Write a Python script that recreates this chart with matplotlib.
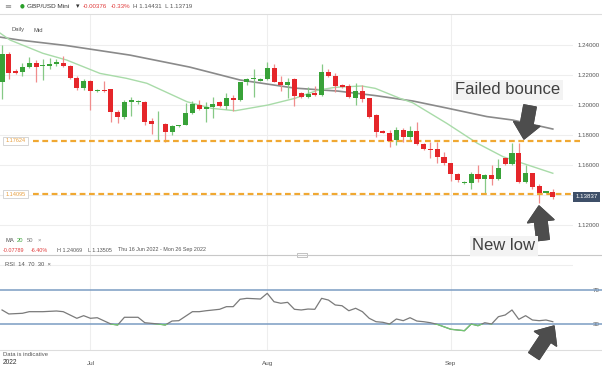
import numpy as np
import matplotlib
matplotlib.use('Agg')
import matplotlib.pyplot as plt
from matplotlib.patches import Rectangle

plt.rcParams['font.family'] = ['Liberation Sans', 'DejaVu Sans']

# Daily GBP/USD candles, 16 Jun - 19 Sep 2022 (index 0 = 16 Jun, Sunday sessions included)
opens = [1.2155, 1.2338, 1.2229, 1.2218, 1.2251, 1.2278, 1.2260, 1.2262, 1.2273, 1.2282,
         1.2260, 1.2182, 1.2115, 1.2162, 1.2093, 1.2100, 1.2105, 1.1955, 1.1918, 1.2018,
         1.2018, 1.2022, 1.1893, 1.1878, 1.1873, 1.1818, 1.1860, 1.1867, 1.1944, 1.2000,
         1.1973, 1.1985, 1.2022, 1.1993, 1.2049, 1.2033, 1.2151, 1.2173, 1.2162, 1.2173,
         1.2249, 1.2155, 1.2133, 1.2173, 1.2082, 1.2051, 1.2078, 1.2067, 1.2218, 1.2195,
         1.2133, 1.2129, 1.2049, 1.2093, 1.2044, 1.1933, 1.1827, 1.1815, 1.1767, 1.1833,
         1.1789, 1.1829, 1.1740, 1.1707, 1.1705, 1.1651, 1.1611, 1.1538, 1.1478, 1.1478,
         1.1540, 1.1507, 1.1535, 1.1507, 1.1645, 1.1605, 1.1678, 1.1489, 1.1545, 1.1460,
         1.1415, 1.1421]
highs = [1.2400, 1.2355, 1.2238, 1.2278, 1.2322, 1.2300, 1.2305, 1.2311, 1.2305, 1.2327,
         1.2265, 1.2193, 1.2171, 1.2167, 1.2105, 1.2162, 1.2110, 1.1967, 1.2033, 1.2051,
         1.2035, 1.2025, 1.1911, 1.1962, 1.1878, 1.1867, 1.1870, 1.2011, 1.2027, 1.2033,
         1.2022, 1.2055, 1.2027, 1.2078, 1.2067, 1.2155, 1.2182, 1.2240, 1.2180, 1.2289,
         1.2271, 1.2195, 1.2182, 1.2182, 1.2089, 1.2122, 1.2129, 1.2271, 1.2240, 1.2211,
         1.2140, 1.2140, 1.2144, 1.2133, 1.2049, 1.1940, 1.1833, 1.1833, 1.1855, 1.1845,
         1.1860, 1.1889, 1.1745, 1.1755, 1.1755, 1.1689, 1.1615, 1.1545, 1.1493, 1.1555,
         1.1600, 1.1540, 1.1600, 1.1638, 1.1653, 1.1745, 1.1745, 1.1600, 1.1549, 1.1473,
         1.1430, 1.1443]
lows = [1.2038, 1.2171, 1.2205, 1.2193, 1.2245, 1.2155, 1.2167, 1.2238, 1.2260, 1.2255,
        1.2171, 1.2100, 1.2100, 1.1967, 1.2085, 1.2089, 1.1889, 1.1878, 1.1907, 1.1927,
        1.2010, 1.1867, 1.1807, 1.1767, 1.1755, 1.1800, 1.1855, 1.1867, 1.1940, 1.1967,
        1.1889, 1.1911, 1.1985, 1.1973, 1.1960, 1.2027, 1.2133, 1.2055, 1.2160, 1.2167,
        1.2151, 1.2093, 1.2045, 1.1995, 1.2047, 1.2045, 1.2062, 1.2062, 1.2187, 1.2089,
        1.2113, 1.2045, 1.2000, 1.2022, 1.1911, 1.1789, 1.1811, 1.1722, 1.1733, 1.1755,
        1.1767, 1.1733, 1.1700, 1.1645, 1.1611, 1.1600, 1.1495, 1.1489, 1.1475, 1.1438,
        1.1489, 1.1407, 1.1467, 1.1500, 1.1600, 1.1600, 1.1482, 1.1482, 1.1442, 1.1349,
        1.1412, 1.1372]
closes = [1.2340, 1.2211, 1.2211, 1.2251, 1.2278, 1.2255, 1.2267, 1.2273, 1.2289, 1.2260,
          1.2182, 1.2115, 1.2162, 1.2093, 1.2100, 1.2093, 1.1951, 1.1918, 1.2022, 1.2033,
          1.2025, 1.1889, 1.1873, 1.1883, 1.1822, 1.1862, 1.1867, 1.1944, 1.2005, 1.1973,
          1.1989, 1.2005, 1.1993, 1.2045, 1.2033, 1.2151, 1.2173, 1.2182, 1.2171, 1.2249,
          1.2155, 1.2133, 1.2155, 1.2062, 1.2055, 1.2071, 1.2067, 1.2218, 1.2195, 1.2129,
          1.2122, 1.2051, 1.2093, 1.2040, 1.1922, 1.1822, 1.1815, 1.1762, 1.1833, 1.1789,
          1.1829, 1.1740, 1.1707, 1.1700, 1.1651, 1.1611, 1.1538, 1.1500, 1.1489, 1.1540,
          1.1507, 1.1535, 1.1507, 1.1582, 1.1605, 1.1678, 1.1489, 1.1545, 1.1455, 1.1415,
          1.1427, 1.1384]

# moving averages
ma20_pos = [-0.3, 1.2, 6, 9.5, 14.4, 18.3, 21.3, 27.2, 30.8, 34.3, 39.1, 43.1, 46.5, 49,
            52.9, 54.9, 58.5, 60.4, 65.4, 69.9, 73.7, 76.6, 81]
ma20 = [1.2480, 1.2433, 1.2345, 1.2300, 1.2211, 1.2178, 1.2145, 1.2022, 1.1978, 1.1962,
        1.2000, 1.2045, 1.2100, 1.2118, 1.2127, 1.2111, 1.2045, 1.2015, 1.1878, 1.1745,
        1.1655, 1.1611, 1.1545]
ma50_pos = [-0.3, 2.6, 9.4, 18.8, 27.6, 35, 43, 49.4, 54.9, 60.4, 65.4, 71.3, 75.1, 81]
ma50 = [1.2453, 1.2433, 1.2397, 1.2333, 1.2253, 1.2167, 1.2113, 1.2093, 1.2063, 1.2027,
        1.1980, 1.1923, 1.1900, 1.1840]

# RSI(14)
rsi_pos = [0, 1, 3, 4, 6, 8, 9, 10, 11, 12, 13, 14, 16, 17, 18, 20, 21, 23, 24, 25, 26,
           28, 29, 30, 32, 33, 34, 35, 36, 38, 39, 40, 41, 42, 43, 44, 45, 46, 47, 48, 49,
           50, 51, 52, 53, 54, 55, 56, 57, 58, 59, 60, 61, 62, 63, 64, 66, 68, 69, 70, 71,
           72, 73, 74, 75, 76, 77, 78, 79, 80, 81]
rsi = [46.5, 41.8, 42.6, 44.5, 44.5, 45.3, 44.5, 40.6, 36.7, 39.8, 36.7, 37.4, 30.0, 28.8,
       37.9, 37.9, 31.5, 30.0, 28.8, 33.5, 33.9, 44.5, 44.5, 45.6, 47.3, 50.4, 50.4, 59.1,
       60.2, 59.4, 66.1, 56.2, 54.4, 55.5, 47.3, 46.5, 47.6, 47.3, 60.2, 58.2, 52.4, 51.5,
       45.6, 48.5, 44.5, 36.7, 32.7, 32.0, 30.0, 35.9, 33.9, 37.4, 33.5, 32.7, 31.5, 29.6,
       23.8, 22.1, 30.0, 28.0, 31.5, 30.0, 38.6, 40.6, 46.5, 35.5, 39.8, 34.7, 33.9, 34.7,
       32.7]

month_pos = [13, 39, 66]
month_labels = ['Jul', 'Aug', 'Sep']
price_ticks = [1.12, 1.14, 1.16, 1.18, 1.20, 1.22, 1.24]
levels = [1.17624, 1.14095]
last_price = 1.13837

W, H = 602, 368
fig = plt.figure(figsize=(W / 100, H / 100), dpi=100)
fig.patch.set_facecolor('white')


def box(x0, y0, x1, y1):
    # image pixels (origin top-left) -> figure fraction
    return [x0 / W, 1 - y1 / H, (x1 - x0) / W, (y1 - y0) / H]


def ftext(x, y, s, **kw):
    kw.setdefault('fontsize', 4.4)
    kw.setdefault('color', '#555555')
    kw.setdefault('va', 'center')
    return fig.text(x / W, 1 - y / H, s, **kw)


ax = fig.add_axes(box(0, 14, 573, 255))
rx = fig.add_axes(box(0, 255, 573, 350), sharex=ax)

x = np.arange(len(opens))
o = np.array(opens)
c = np.array(closes)
up = c >= o
body_col = np.where(up, '#38a238', '#e5262a')
wick_col = np.where(up, '#86c986', '#f08c8c')

ax.vlines(x, lows, highs, colors=wick_col, lw=0.9, zorder=3)
ax.bar(x, np.maximum(np.abs(c - o), 0.0005), bottom=np.minimum(o, c), width=0.74,
       color=body_col, zorder=4)

ax.plot(ma50_pos, ma50, color='#8a8a8a', lw=1.2, zorder=2)
ax.plot(ma20_pos, ma20, color='#a8dba8', lw=1.0, zorder=2)

x_right = (602 - 2) / 6.8
ax.hlines(levels, 4.6, 85, colors='#f0a832', lw=1.6, linestyles=(0, (2.6, 1.6)),
          clip_on=False, zorder=3)

ax.set_xlim(-0.3, 83.97)
ax.set_ylim(1.10, 1.2607)
ax.set_yticks(price_ticks)
# the 1.14000 label sits under the last-price tag
ax.set_yticklabels(['' if abs(p - 1.14) < 1e-9 else '%.5f' % p for p in price_ticks])
ax.yaxis.tick_right()
ax.tick_params(axis='y', length=0, pad=3, labelsize=4.4, labelcolor='#555555')
ax.tick_params(axis='x', length=0, labelbottom=False)
ax.set_xticks(month_pos)
ax.grid(True, color='#eeeeee', lw=0.8, zorder=0)
for s in ax.spines.values():
    s.set_visible(False)

# RSI panel
rx.plot(rsi_pos, rsi, color='#7a7a7a', lw=0.9, zorder=3)
low_part, = rx.plot(rsi_pos, rsi, color='#72c872', lw=0.9, zorder=4)
low_part.set_clip_path(Rectangle((-5, -10), 120, 40, transform=rx.transData))
rx.plot([-0.3, x_right], [70, 70], color='#7b9cc2', lw=1.1, clip_on=False, zorder=2)
rx.plot([-0.3, x_right], [30, 30], color='#7b9cc2', lw=1.1, clip_on=False, zorder=2)
rx.axhline(100, color='#eeeeee', lw=0.8, zorder=0)
rx.set_ylim(-0.6, 111.2)
rx.set_yticks([30, 70])
rx.yaxis.tick_right()
rx.tick_params(axis='y', length=0, pad=14, labelsize=4.4, labelcolor='#555555')
rx.set_xticks(month_pos)
rx.set_xticklabels(month_labels)
rx.tick_params(axis='x', length=0, pad=8, labelsize=4.6, labelcolor='#555555')
rx.grid(True, axis='x', color='#eeeeee', lw=0.8, zorder=0)
for s in rx.spines.values():
    s.set_visible(False)

# frame lines
for yy, col in [(14, '#dddddd'), (255, '#c8c8c8'), (350, '#dddddd')]:
    fig.add_artist(plt.Line2D([0, 1], [1 - yy / H] * 2, color=col, lw=0.8))
fig.add_artist(Rectangle(((297) / W, 1 - 257 / H), 10 / W, 4 / H, fc='white',
                         ec='#aaaaaa', lw=0.5))

# header
ftext(4, 6, '≡', fontsize=6, color='#888888', family='DejaVu Sans')
ftext(19.5, 6, '●', fontsize=4, color='#2aa02a', family='DejaVu Sans')
ftext(27, 6, 'GBP/USD Mini', fontsize=4.6, color='#333333')
ftext(76, 6, '▾', fontsize=5, color='#333333', family='DejaVu Sans')
ftext(83, 6, '-0.00376', color='#e03b3b')
ftext(111, 6, '-0.33%', color='#e03b3b')
ftext(133, 6, 'H 1.14431  L 1.13719', color='#555555')
ftext(12, 30, 'Daily', fontsize=4.2)
ftext(34, 30, 'Mid', fontsize=4.2)

# legend lines
ftext(5, 240, 'MA', fontsize=4.2)
ftext(17, 240, '20', fontsize=4.2, color='#3aa33a')
ftext(27, 240, '50', fontsize=4.2, color='#777777')
ftext(38, 240, '×', fontsize=4.2, color='#888888')
ftext(3, 250, '-0.07789', fontsize=3.9, color='#e03b3b')
ftext(31, 250, '-6.40%', fontsize=3.9, color='#e03b3b')
ftext(57, 250, 'H 1.24069', fontsize=3.9)
ftext(88, 250, 'L 1.13505', fontsize=3.9)
ftext(118, 250, 'Thu 16 Jun 2022 - Mon 26 Sep 2022', fontsize=3.9)
ftext(5, 264, 'RSI  14  70  30  ×', fontsize=4.2)
ftext(3, 354, 'Data is indicative', fontsize=4.2)
ftext(3, 363, '2022', fontsize=4.8, color='#333333')

# level boxes
for lv, yy in zip(levels, [141, 194]):
    ftext(15.5, yy, '%.5f' % lv, fontsize=4, color='#e8a040', ha='center',
          bbox=dict(boxstyle='square,pad=0.35', fc='white', ec='#cfcfcf', lw=0.6))
ftext(586.5, 197, '%.5f' % last_price, fontsize=4.4, color='white', ha='center',
      bbox=dict(boxstyle='square,pad=0.4', fc='#3e4f68', ec='none'), zorder=10)

# annotations
ftext(508, 90, 'Failed bounce', fontsize=12, color='#404040', ha='center',
      bbox=dict(boxstyle='square,pad=0.15', fc='#f3f3f3', ec='none'))
ftext(504, 246, 'New low', fontsize=12, color='#404040', ha='center',
      bbox=dict(boxstyle='square,pad=0.15', fc='#f3f3f3', ec='none'))

arrow_style = dict(arrowstyle='simple,head_length=1.1,head_width=1.9,tail_width=0.9',
                   fc='#4d4d4d', ec='#4d4d4d', shrinkA=0, shrinkB=0, mutation_scale=10)
for tail, tip in [((530, 106), (524, 139)), ((543, 240), (539, 206)),
                  ((534, 356), (554, 326))]:
    fig.add_artist(plt.annotate('', xy=(tip[0], H - tip[1]), xytext=(tail[0], H - tail[1]),
                                xycoords='figure pixels', arrowprops=arrow_style))

fig.savefig('out.png', dpi=100)
